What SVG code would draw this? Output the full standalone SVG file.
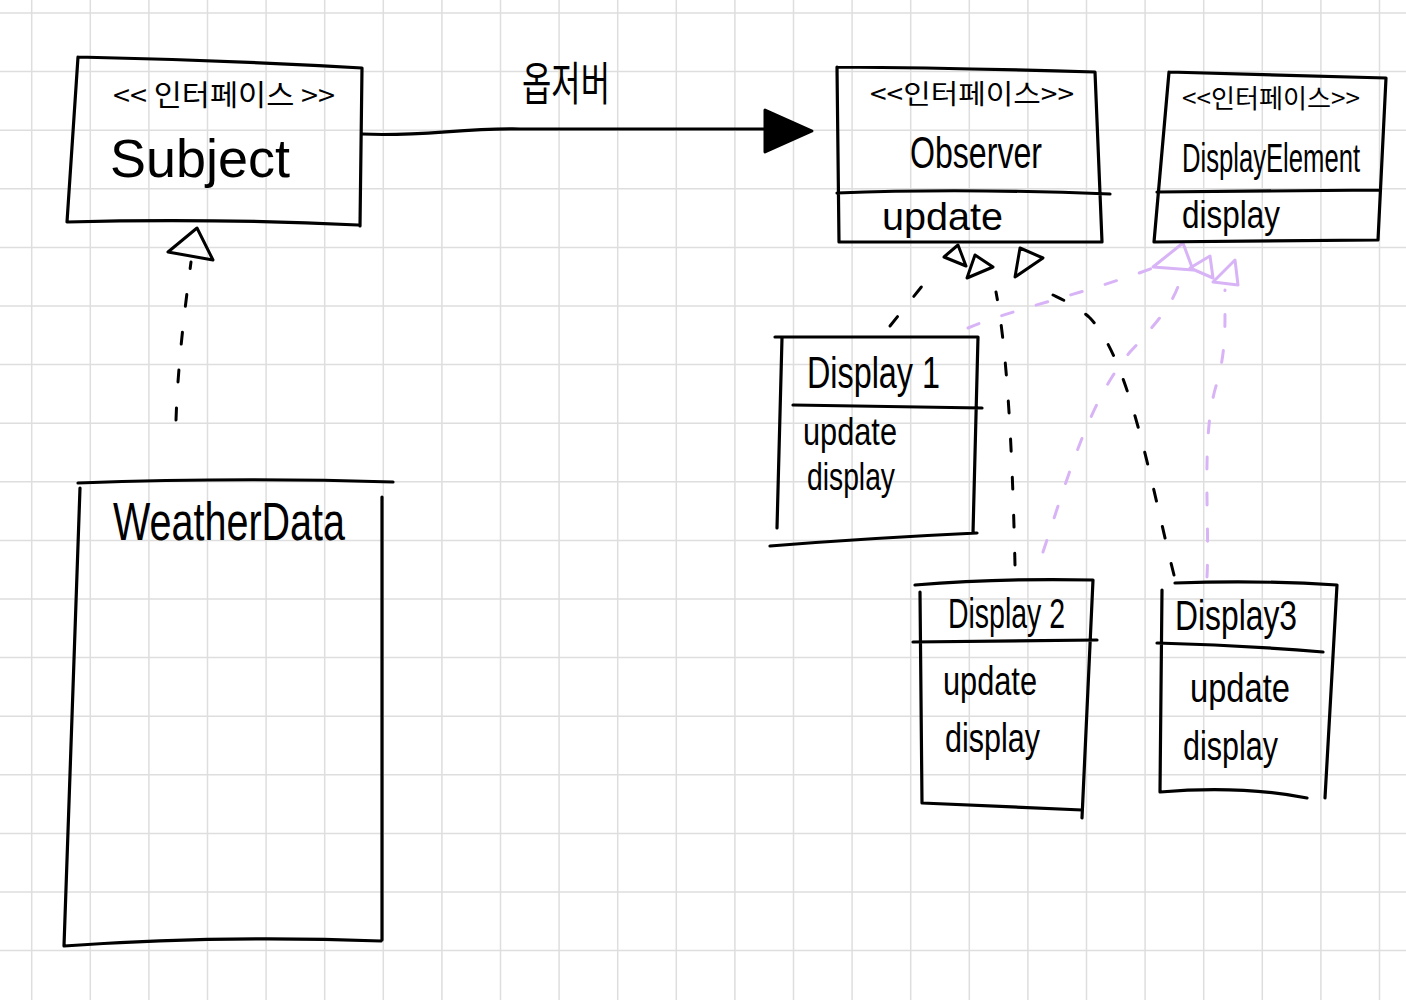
<svg xmlns="http://www.w3.org/2000/svg" width="1406" height="1000" viewBox="0 0 1406 1000">
<defs>
<style>
.grid{stroke:#dedede;stroke-width:1.5;fill:none}
.box{fill:none;stroke:#000;stroke-width:3.2;stroke-linecap:round;stroke-linejoin:round}
.t{font-family:"Liberation Sans","Noto Sans CJK KR",sans-serif;fill:#000}
.k{font-family:"Noto Sans CJK KR",sans-serif;fill:#000}
.dash{fill:none;stroke:#000;stroke-width:3;stroke-linecap:round;stroke-dasharray:12 26}
.pdash{fill:none;stroke:#d8b4f6;stroke-width:3;stroke-linecap:round;stroke-dasharray:12 24}
.tri{fill:none;stroke:#000;stroke-width:3;stroke-linejoin:round}
.ptri{fill:none;stroke:#d8b4f6;stroke-width:3;stroke-linejoin:round}
</style>
</defs>
<rect width="1406" height="1000" fill="#fff"/>
<path class="grid" d="M31.7,0V1000M90.3,0V1000M148.9,0V1000M207.5,0V1000M266.1,0V1000M324.7,0V1000M383.3,0V1000M441.9,0V1000M500.5,0V1000M559.1,0V1000M617.7,0V1000M676.3,0V1000M734.9,0V1000M793.5,0V1000M852.1,0V1000M910.7,0V1000M969.3,0V1000M1027.9,0V1000M1086.5,0V1000M1145.1,0V1000M1203.7,0V1000M1262.3,0V1000M1320.9,0V1000M1379.5,0V1000M0,13H1406M0,71.6H1406M0,130.2H1406M0,188.8H1406M0,247.4H1406M0,306H1406M0,364.6H1406M0,423.2H1406M0,481.8H1406M0,540.4H1406M0,599H1406M0,657.6H1406M0,716.2H1406M0,774.8H1406M0,833.4H1406M0,892H1406M0,950.6H1406"/>
<g id="connectors">
<path class="box" d="M362,134 C420,137 460,128 520,129 L770,129"/>
<polygon points="765,110 812,131 765,152" fill="#000" stroke="#000" stroke-width="3" stroke-linejoin="round"/>
<text class="k" x="522" y="100" font-size="46" textLength="88" lengthAdjust="spacingAndGlyphs">옵저버</text>
<path class="dash" d="M176,420 C178,360 186,300 191,262"/>
<polygon class="tri" points="197,228 168,252 213,260"/>
<path class="dash" d="M890,326 L935,270"/>
<polygon class="tri" points="944,257 958,245 966,266"/>
<path class="dash" d="M1015,565 C1013,480 1009,360 996,292"/>
<polygon class="tri" points="967,278 975,255 993,267"/>
<path class="dash" d="M1174,575 C1150,480 1130,360 1090,318 C1068,298 1048,296 1032,282"/>
<polygon class="tri" points="1015,277 1020,248 1043,258"/>
<path class="pdash" d="M968,328 C1010,310 1080,295 1153,268"/>
<polygon class="ptri" points="1153,267 1183,243 1193,270"/>
<path class="pdash" d="M1043,552 C1070,470 1090,400 1130,352 C1160,320 1175,300 1180,280"/>
<polygon class="ptri" points="1190,268 1210,256 1213,278"/>
<path class="pdash" d="M1207,577 C1210,520 1200,430 1218,380 C1228,340 1224,310 1225,290"/>
<polygon class="ptri" points="1213,282 1235,260 1238,285"/>
</g>
<g id="subject">
<path class="box" d="M78,57 Q220,60 362,68 L360,226 M78,57 L67,222 Q210,218 358,225"/>
<text class="k" x="113" y="106" font-size="29" textLength="222" lengthAdjust="spacingAndGlyphs">&lt;&lt; 인터페이스 &gt;&gt;</text>
<text class="t" x="110" y="177" font-size="54" textLength="180" lengthAdjust="spacingAndGlyphs">Subject</text>
</g>
<g id="weatherdata">
<path class="box" d="M78,483 Q240,477 393,482 M80,488 L64,946 Q220,935 381,941 M382,497 L382,940"/>
<text class="t" x="113" y="540" font-size="54" textLength="232" lengthAdjust="spacingAndGlyphs">WeatherData</text>
</g>
<g id="observer">
<path class="box" d="M837,67 Q960,68 1095,72 L1102,242 L839,242 L837,67 M837,193 Q960,188 1110,194"/>
<text class="k" x="870" y="104" font-size="27" textLength="204" lengthAdjust="spacingAndGlyphs">&lt;&lt;인터페이스&gt;&gt;</text>
<text class="t" x="910" y="168" font-size="44" textLength="132" lengthAdjust="spacingAndGlyphs">Observer</text>
<text class="t" x="882" y="230" font-size="38" textLength="121" lengthAdjust="spacingAndGlyphs">update</text>
</g>
<g id="displayelement">
<path class="box" d="M1169,72 L1386,78 L1378,240 L1154,242 L1169,72 M1157,192 L1380,190"/>
<text class="k" x="1182" y="108" font-size="26" textLength="178" lengthAdjust="spacingAndGlyphs">&lt;&lt;인터페이스&gt;&gt;</text>
<text class="t" x="1182" y="172" font-size="40" textLength="178" lengthAdjust="spacingAndGlyphs">DisplayElement</text>
<text class="t" x="1182" y="228" font-size="38" textLength="98" lengthAdjust="spacingAndGlyphs">display</text>
</g>
<g id="display1">
<path class="box" d="M775,337 L978,337 L973,533 M782,338 L777,528 M770,546 Q870,538 977,533 M793,405 L982,408"/>
<text class="t" x="807" y="388" font-size="44" textLength="133" lengthAdjust="spacingAndGlyphs">Display 1</text>
<text class="t" x="803" y="445" font-size="38" textLength="94" lengthAdjust="spacingAndGlyphs">update</text>
<text class="t" x="807" y="490" font-size="38" textLength="88" lengthAdjust="spacingAndGlyphs">display</text>
</g>
<g id="display2">
<path class="box" d="M915,585 Q1000,578 1093,580 L1082,818 M920,592 L922,803 L1082,810 M913,642 L1097,640"/>
<text class="t" x="948" y="628" font-size="42" textLength="117" lengthAdjust="spacingAndGlyphs">Display 2</text>
<text class="t" x="943" y="695" font-size="40" textLength="94" lengthAdjust="spacingAndGlyphs">update</text>
<text class="t" x="945" y="752" font-size="40" textLength="95" lengthAdjust="spacingAndGlyphs">display</text>
</g>
<g id="display3">
<path class="box" d="M1175,583 Q1260,580 1337,585 L1325,798 M1162,590 L1160,792 Q1240,785 1307,798 M1157,643 Q1240,645 1323,652"/>
<text class="t" x="1175" y="630" font-size="42" textLength="122" lengthAdjust="spacingAndGlyphs">Display3</text>
<text class="t" x="1190" y="702" font-size="40" textLength="100" lengthAdjust="spacingAndGlyphs">update</text>
<text class="t" x="1183" y="760" font-size="40" textLength="95" lengthAdjust="spacingAndGlyphs">display</text>
</g>
</svg>
